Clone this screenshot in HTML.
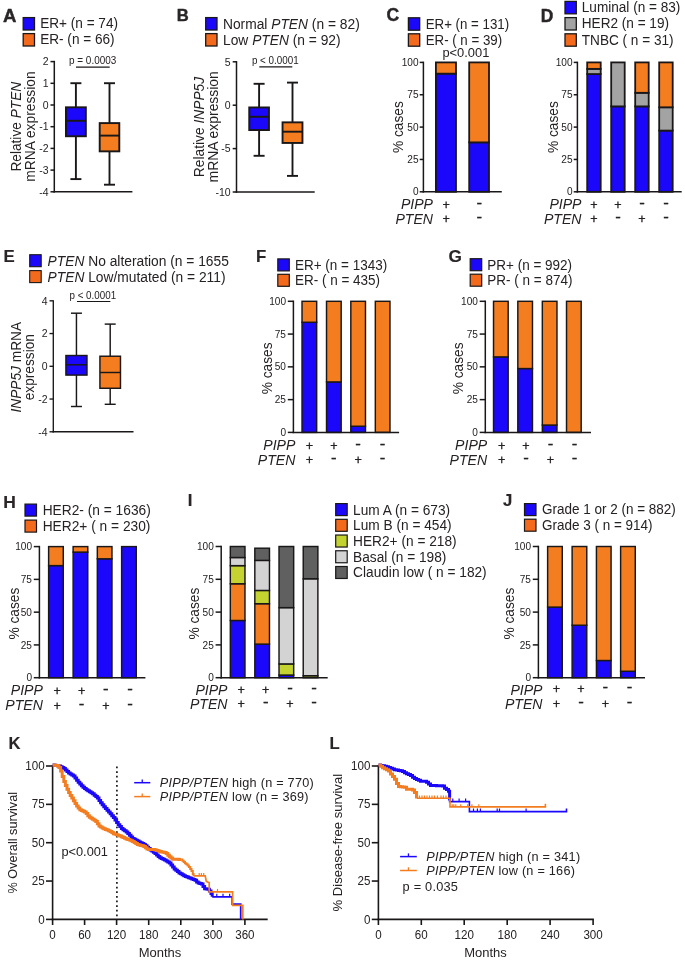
<!DOCTYPE html>
<html lang="en">
<head>
<meta charset="utf-8">
<title>PIPP / PTEN expression figure</title>
<style>
html,body{margin:0;padding:0;background:#fff;}
body{width:685px;height:963px;overflow:hidden;}
svg{display:block;font-family:"Liberation Sans",Arial,Helvetica,sans-serif;fill:#262223;}
svg line,svg rect,svg path{shape-rendering:geometricPrecision;}
</style>
</head>
<body>
<svg width="685" height="963" viewBox="0 0 685 963">
<rect x="0" y="0" width="685" height="963" fill="#ffffff" stroke="none"/>
<text font-size="17.4" font-weight="bold" transform="translate(2.9 21.7) scale(1.07 1.04)" fill="#2a2627" stroke="#2a2627" stroke-width="0.4" stroke-linejoin="round" xml:space="preserve">A</text>
<rect x="23.2" y="17.6" width="11.3" height="12.4" fill="#1b08fa" stroke="#1a1718" stroke-width="1.3"/>
<text font-size="13.6" transform="translate(40.2 28.35) scale(1 1.04)" xml:space="preserve">ER+ (n = 74)</text>
<rect x="23.2" y="33.6" width="11.3" height="12.4" fill="#f46a1c" stroke="#1a1718" stroke-width="1.3"/>
<text font-size="13.6" transform="translate(40.2 44.35) scale(1 1.04)" xml:space="preserve">ER- (n = 66)</text>
<line x1="54.3" y1="60.85" x2="54.3" y2="192.55" stroke="#1a1718" stroke-width="1.5"/>
<line x1="53.55" y1="191.8" x2="132.4" y2="191.8" stroke="#1a1718" stroke-width="1.5"/>
<line x1="50.5" y1="61.6" x2="54.3" y2="61.6" stroke="#1a1718" stroke-width="1.5"/>
<text font-size="10.5" text-anchor="end" transform="translate(48.5 65.38) scale(1 1.04)" xml:space="preserve">2</text>
<line x1="50.5" y1="83.3" x2="54.3" y2="83.3" stroke="#1a1718" stroke-width="1.5"/>
<text font-size="10.5" text-anchor="end" transform="translate(48.5 87.08) scale(1 1.04)" xml:space="preserve">1</text>
<line x1="50.5" y1="105" x2="54.3" y2="105" stroke="#1a1718" stroke-width="1.5"/>
<text font-size="10.5" text-anchor="end" transform="translate(48.5 108.78) scale(1 1.04)" xml:space="preserve">0</text>
<line x1="50.5" y1="126.7" x2="54.3" y2="126.7" stroke="#1a1718" stroke-width="1.5"/>
<text font-size="10.5" text-anchor="end" transform="translate(48.5 130.48) scale(1 1.04)" xml:space="preserve">-1</text>
<line x1="50.5" y1="148.4" x2="54.3" y2="148.4" stroke="#1a1718" stroke-width="1.5"/>
<text font-size="10.5" text-anchor="end" transform="translate(48.5 152.18) scale(1 1.04)" xml:space="preserve">-2</text>
<line x1="50.5" y1="170.1" x2="54.3" y2="170.1" stroke="#1a1718" stroke-width="1.5"/>
<text font-size="10.5" text-anchor="end" transform="translate(48.5 173.88) scale(1 1.04)" xml:space="preserve">-3</text>
<line x1="50.5" y1="191.8" x2="54.3" y2="191.8" stroke="#1a1718" stroke-width="1.5"/>
<text font-size="10.5" text-anchor="end" transform="translate(48.5 195.58) scale(1 1.04)" xml:space="preserve">-4</text>
<text font-size="10.3" transform="translate(69 63.8) scale(1 1.04)" textLength="47.3" lengthAdjust="spacingAndGlyphs" xml:space="preserve">p = 0.0003</text>
<line x1="76" y1="67.2" x2="109.7" y2="67.2" stroke="#1a1718" stroke-width="1.2"/>
<line x1="75.9" y1="83.2" x2="75.9" y2="107.3" stroke="#1a1718" stroke-width="1.9"/>
<line x1="75.9" y1="136.25" x2="75.9" y2="179.1" stroke="#1a1718" stroke-width="1.9"/>
<line x1="70.4" y1="83.2" x2="81.4" y2="83.2" stroke="#1a1718" stroke-width="1.9"/>
<line x1="70.4" y1="179.1" x2="81.4" y2="179.1" stroke="#1a1718" stroke-width="1.9"/>
<rect x="65.95" y="107.3" width="19.9" height="28.95" fill="#1b08fa" stroke="#1a1718" stroke-width="1.9"/>
<line x1="65.95" y1="120.8" x2="85.85" y2="120.8" stroke="#1a1718" stroke-width="1.9"/>
<line x1="109.5" y1="83.2" x2="109.5" y2="123.1" stroke="#1a1718" stroke-width="1.9"/>
<line x1="109.5" y1="151.35" x2="109.5" y2="184.7" stroke="#1a1718" stroke-width="1.9"/>
<line x1="104" y1="83.2" x2="115" y2="83.2" stroke="#1a1718" stroke-width="1.9"/>
<line x1="104" y1="184.7" x2="115" y2="184.7" stroke="#1a1718" stroke-width="1.9"/>
<rect x="99.7" y="123.1" width="19.6" height="28.25" fill="#f47d20" stroke="#1a1718" stroke-width="1.9"/>
<line x1="99.7" y1="135.6" x2="119.3" y2="135.6" stroke="#1a1718" stroke-width="1.9"/>
<text font-size="13.7" text-anchor="middle" transform="translate(20.6 126.7) rotate(-90) scale(1 1.04)" xml:space="preserve">Relative <tspan font-style="italic">PTEN</tspan></text>
<text font-size="13.8" text-anchor="middle" transform="translate(34.6 126.6) rotate(-90) scale(1 1.04)" xml:space="preserve">mRNA expression</text>
<text font-size="16.6" font-weight="bold" transform="translate(176.8 21) scale(1 1.04)" fill="#2a2627" stroke="#2a2627" stroke-width="0.4" stroke-linejoin="round" xml:space="preserve">B</text>
<rect x="205.7" y="17.6" width="11.3" height="12.4" fill="#1b08fa" stroke="#1a1718" stroke-width="1.3"/>
<text font-size="13.8" transform="translate(223 28.7) scale(1 1.04)" xml:space="preserve">Normal <tspan font-style="italic">PTEN</tspan> (n = 82)</text>
<rect x="205.7" y="33.6" width="11.3" height="12.4" fill="#f46a1c" stroke="#1a1718" stroke-width="1.3"/>
<text font-size="13.8" transform="translate(223 44.7) scale(1 1.04)" xml:space="preserve">Low <tspan font-style="italic">PTEN</tspan> (n = 92)</text>
<line x1="236.5" y1="61.05" x2="236.5" y2="192.75" stroke="#1a1718" stroke-width="1.5"/>
<line x1="235.75" y1="192" x2="314.7" y2="192" stroke="#1a1718" stroke-width="1.5"/>
<line x1="232.7" y1="61.8" x2="236.5" y2="61.8" stroke="#1a1718" stroke-width="1.5"/>
<text font-size="10.5" text-anchor="end" transform="translate(230.7 65.58) scale(1 1.04)" xml:space="preserve">5</text>
<line x1="232.7" y1="105.2" x2="236.5" y2="105.2" stroke="#1a1718" stroke-width="1.5"/>
<text font-size="10.5" text-anchor="end" transform="translate(230.7 108.98) scale(1 1.04)" xml:space="preserve">0</text>
<line x1="232.7" y1="148.6" x2="236.5" y2="148.6" stroke="#1a1718" stroke-width="1.5"/>
<text font-size="10.5" text-anchor="end" transform="translate(230.7 152.38) scale(1 1.04)" xml:space="preserve">-5</text>
<line x1="232.7" y1="192" x2="236.5" y2="192" stroke="#1a1718" stroke-width="1.5"/>
<text font-size="10.5" text-anchor="end" transform="translate(230.7 195.78) scale(1 1.04)" xml:space="preserve">-10</text>
<text font-size="10.3" transform="translate(251.9 63.8) scale(1 1.04)" textLength="46.8" lengthAdjust="spacingAndGlyphs" xml:space="preserve">p &lt; 0.0001</text>
<line x1="259.3" y1="66.9" x2="292.3" y2="66.9" stroke="#1a1718" stroke-width="1.2"/>
<line x1="259.1" y1="83.8" x2="259.1" y2="107.45" stroke="#1a1718" stroke-width="1.9"/>
<line x1="259.1" y1="130.05" x2="259.1" y2="155.8" stroke="#1a1718" stroke-width="1.9"/>
<line x1="253.6" y1="83.8" x2="264.6" y2="83.8" stroke="#1a1718" stroke-width="1.9"/>
<line x1="253.6" y1="155.8" x2="264.6" y2="155.8" stroke="#1a1718" stroke-width="1.9"/>
<rect x="249.25" y="107.45" width="19.7" height="22.6" fill="#1b08fa" stroke="#1a1718" stroke-width="1.9"/>
<line x1="249.25" y1="116.8" x2="268.95" y2="116.8" stroke="#1a1718" stroke-width="1.9"/>
<line x1="292.5" y1="82.6" x2="292.5" y2="122.35" stroke="#1a1718" stroke-width="1.9"/>
<line x1="292.5" y1="142.95" x2="292.5" y2="175.9" stroke="#1a1718" stroke-width="1.9"/>
<line x1="287" y1="82.6" x2="298" y2="82.6" stroke="#1a1718" stroke-width="1.9"/>
<line x1="287" y1="175.9" x2="298" y2="175.9" stroke="#1a1718" stroke-width="1.9"/>
<rect x="282.55" y="122.35" width="19.9" height="20.6" fill="#f47d20" stroke="#1a1718" stroke-width="1.9"/>
<line x1="282.55" y1="131.7" x2="302.45" y2="131.7" stroke="#1a1718" stroke-width="1.9"/>
<text font-size="13.8" text-anchor="middle" transform="translate(203.9 127) rotate(-90) scale(1 1.04)" xml:space="preserve">Relative <tspan font-style="italic">INPP5J</tspan></text>
<text font-size="13.9" text-anchor="middle" transform="translate(217.5 126.8) rotate(-90) scale(1 1.04)" xml:space="preserve">mRNA expression</text>
<text font-size="17.6" font-weight="bold" transform="translate(386.4 21.2) scale(1 1.04)" fill="#2a2627" stroke="#2a2627" stroke-width="0.4" stroke-linejoin="round" xml:space="preserve">C</text>
<rect x="408.4" y="17.8" width="11.3" height="12.4" fill="#1b08fa" stroke="#1a1718" stroke-width="1.3"/>
<text font-size="13.3" transform="translate(425.7 28.5) scale(1 1.04)" xml:space="preserve">ER+ (n = 131)</text>
<rect x="408.4" y="33.8" width="11.3" height="12.4" fill="#f46a1c" stroke="#1a1718" stroke-width="1.3"/>
<text font-size="13.3" transform="translate(425.7 44.5) scale(1 1.04)" xml:space="preserve">ER- ( n = 39)</text>
<text font-size="12.9" transform="translate(442.4 57.3) scale(1 1.04)" xml:space="preserve">p&lt;0.001</text>
<rect x="435.9" y="73.6578" width="20.1" height="118.142" fill="#1b08fa" stroke="#1a1718" stroke-width="1.8"/>
<rect x="435.9" y="62.4" width="20.1" height="11.2578" fill="#f47d20" stroke="#1a1718" stroke-width="1.8"/>
<rect x="469.2" y="142.369" width="19.8" height="49.4308" fill="#1b08fa" stroke="#1a1718" stroke-width="1.8"/>
<rect x="469.2" y="62.4" width="19.8" height="79.9692" fill="#f47d20" stroke="#1a1718" stroke-width="1.8"/>
<line x1="423.4" y1="61.65" x2="423.4" y2="192.55" stroke="#1a1718" stroke-width="1.5"/>
<line x1="422.65" y1="191.8" x2="501.8" y2="191.8" stroke="#1a1718" stroke-width="1.5"/>
<line x1="419.7" y1="62.4" x2="423.4" y2="62.4" stroke="#1a1718" stroke-width="1.5"/>
<text font-size="10.1" text-anchor="end" transform="translate(418.6 66.036) scale(1 1.04)" xml:space="preserve">100</text>
<line x1="419.7" y1="94.75" x2="423.4" y2="94.75" stroke="#1a1718" stroke-width="1.5"/>
<text font-size="10.1" text-anchor="end" transform="translate(418.6 98.386) scale(1 1.04)" xml:space="preserve">75</text>
<line x1="419.7" y1="127.1" x2="423.4" y2="127.1" stroke="#1a1718" stroke-width="1.5"/>
<text font-size="10.1" text-anchor="end" transform="translate(418.6 130.736) scale(1 1.04)" xml:space="preserve">50</text>
<line x1="419.7" y1="159.45" x2="423.4" y2="159.45" stroke="#1a1718" stroke-width="1.5"/>
<text font-size="10.1" text-anchor="end" transform="translate(418.6 163.086) scale(1 1.04)" xml:space="preserve">25</text>
<line x1="419.7" y1="191.8" x2="423.4" y2="191.8" stroke="#1a1718" stroke-width="1.5"/>
<text font-size="10.1" text-anchor="end" transform="translate(418.6 195.436) scale(1 1.04)" xml:space="preserve">0</text>
<text font-size="13.7" text-anchor="middle" transform="translate(403 127.1) rotate(-90) scale(1 1.04)" xml:space="preserve">% cases</text>
<text font-size="14.1" text-anchor="end" transform="translate(433 208.8) scale(1 1.04)" xml:space="preserve"><tspan font-style="italic">PIPP</tspan></text>
<text font-size="14.1" text-anchor="end" transform="translate(433 223.6) scale(1 1.04)" xml:space="preserve"><tspan font-style="italic">PTEN</tspan></text>
<text font-size="12.6" text-anchor="middle" transform="translate(446.25 208.50) scale(1 1.04)" stroke="#262223" stroke-width="0.3">+</text>
<text font-size="12.6" text-anchor="middle" transform="translate(446.25 223.10) scale(1 1.04)" stroke="#262223" stroke-width="0.3">+</text>
<text font-size="14" text-anchor="middle" transform="translate(479.4 207.63) scale(1.2 1.04)" stroke="#262223" stroke-width="0.3">-</text>
<text font-size="14" text-anchor="middle" transform="translate(479.4 222.23) scale(1.2 1.04)" stroke="#262223" stroke-width="0.3">-</text>
<text font-size="17.4" font-weight="bold" transform="translate(540.8 21.7) scale(1 1.04)" fill="#2a2627" stroke="#2a2627" stroke-width="0.4" stroke-linejoin="round" xml:space="preserve">D</text>
<rect x="565" y="1.4" width="11.3" height="12.4" fill="#1b08fa" stroke="#1a1718" stroke-width="1.3"/>
<text font-size="13.6" transform="translate(581.8 12.1) scale(1 1.04)" xml:space="preserve">Luminal (n = 83)</text>
<rect x="565" y="17.6" width="11.3" height="12.4" fill="#a3a3a3" stroke="#1a1718" stroke-width="1.3"/>
<text font-size="13.6" transform="translate(581.8 28.3) scale(1 1.04)" xml:space="preserve">HER2 (n = 19)</text>
<rect x="565" y="33.8" width="11.3" height="12.4" fill="#f46a1c" stroke="#1a1718" stroke-width="1.3"/>
<text font-size="13.6" transform="translate(581.8 44.5) scale(1 1.04)" xml:space="preserve">TNBC ( n = 31)</text>
<rect x="587.2" y="74.046" width="13.5" height="117.754" fill="#1b08fa" stroke="#1a1718" stroke-width="1.8"/>
<rect x="587.2" y="68.87" width="13.5" height="5.176" fill="#a3a3a3" stroke="#1a1718" stroke-width="1.8"/>
<rect x="587.2" y="62.4" width="13.5" height="6.47" fill="#f47d20" stroke="#1a1718" stroke-width="1.8"/>
<rect x="611.2" y="106.396" width="13.5" height="85.404" fill="#1b08fa" stroke="#1a1718" stroke-width="1.8"/>
<rect x="611.2" y="62.4" width="13.5" height="43.996" fill="#a3a3a3" stroke="#1a1718" stroke-width="1.8"/>
<rect x="635.2" y="106.396" width="13.5" height="85.404" fill="#1b08fa" stroke="#1a1718" stroke-width="1.8"/>
<rect x="635.2" y="92.809" width="13.5" height="13.587" fill="#a3a3a3" stroke="#1a1718" stroke-width="1.8"/>
<rect x="635.2" y="62.4" width="13.5" height="30.409" fill="#f47d20" stroke="#1a1718" stroke-width="1.8"/>
<rect x="659.2" y="130.594" width="13.5" height="61.2062" fill="#1b08fa" stroke="#1a1718" stroke-width="1.8"/>
<rect x="659.2" y="107.302" width="13.5" height="23.292" fill="#a3a3a3" stroke="#1a1718" stroke-width="1.8"/>
<rect x="659.2" y="62.4" width="13.5" height="44.9018" fill="#f47d20" stroke="#1a1718" stroke-width="1.8"/>
<line x1="577.4" y1="61.65" x2="577.4" y2="192.55" stroke="#1a1718" stroke-width="1.5"/>
<line x1="576.65" y1="191.8" x2="681.7" y2="191.8" stroke="#1a1718" stroke-width="1.5"/>
<line x1="573.7" y1="62.4" x2="577.4" y2="62.4" stroke="#1a1718" stroke-width="1.5"/>
<text font-size="10.1" text-anchor="end" transform="translate(572.6 66.036) scale(1 1.04)" xml:space="preserve">100</text>
<line x1="573.7" y1="94.75" x2="577.4" y2="94.75" stroke="#1a1718" stroke-width="1.5"/>
<text font-size="10.1" text-anchor="end" transform="translate(572.6 98.386) scale(1 1.04)" xml:space="preserve">75</text>
<line x1="573.7" y1="127.1" x2="577.4" y2="127.1" stroke="#1a1718" stroke-width="1.5"/>
<text font-size="10.1" text-anchor="end" transform="translate(572.6 130.736) scale(1 1.04)" xml:space="preserve">50</text>
<line x1="573.7" y1="159.45" x2="577.4" y2="159.45" stroke="#1a1718" stroke-width="1.5"/>
<text font-size="10.1" text-anchor="end" transform="translate(572.6 163.086) scale(1 1.04)" xml:space="preserve">25</text>
<line x1="573.7" y1="191.8" x2="577.4" y2="191.8" stroke="#1a1718" stroke-width="1.5"/>
<text font-size="10.1" text-anchor="end" transform="translate(572.6 195.436) scale(1 1.04)" xml:space="preserve">0</text>
<text font-size="13.7" text-anchor="middle" transform="translate(558 127.1) rotate(-90) scale(1 1.04)" xml:space="preserve">% cases</text>
<text font-size="14.1" text-anchor="end" transform="translate(581.5 208.8) scale(1 1.04)" xml:space="preserve"><tspan font-style="italic">PIPP</tspan></text>
<text font-size="14.1" text-anchor="end" transform="translate(581.5 223.6) scale(1 1.04)" xml:space="preserve"><tspan font-style="italic">PTEN</tspan></text>
<text font-size="12.6" text-anchor="middle" transform="translate(593.95 208.50) scale(1 1.04)" stroke="#262223" stroke-width="0.3">+</text>
<text font-size="12.6" text-anchor="middle" transform="translate(593.95 223.10) scale(1 1.04)" stroke="#262223" stroke-width="0.3">+</text>
<text font-size="12.6" text-anchor="middle" transform="translate(617.95 208.50) scale(1 1.04)" stroke="#262223" stroke-width="0.3">+</text>
<text font-size="14" text-anchor="middle" transform="translate(617.95 222.23) scale(1.2 1.04)" stroke="#262223" stroke-width="0.3">-</text>
<text font-size="14" text-anchor="middle" transform="translate(641.95 207.63) scale(1.2 1.04)" stroke="#262223" stroke-width="0.3">-</text>
<text font-size="12.6" text-anchor="middle" transform="translate(641.95 223.10) scale(1 1.04)" stroke="#262223" stroke-width="0.3">+</text>
<text font-size="14" text-anchor="middle" transform="translate(665.95 207.63) scale(1.2 1.04)" stroke="#262223" stroke-width="0.3">-</text>
<text font-size="14" text-anchor="middle" transform="translate(665.95 222.23) scale(1.2 1.04)" stroke="#262223" stroke-width="0.3">-</text>
<text font-size="15" font-weight="bold" transform="translate(3.6 261.8) scale(1.12 1.04)" fill="#2a2627" stroke="#2a2627" stroke-width="0.15" stroke-linejoin="round" xml:space="preserve">E</text>
<rect x="29.7" y="254.7" width="11.5" height="12" fill="#1b08fa" stroke="#1a1718" stroke-width="1.1"/>
<text font-size="13.8" transform="translate(47.6 265.9) scale(1 1.04)" xml:space="preserve"><tspan font-style="italic">PTEN</tspan> No alteration (n = 1655</text>
<rect x="29.7" y="270.6" width="11.5" height="12" fill="#f46a1c" stroke="#1a1718" stroke-width="1.1"/>
<text font-size="13.8" transform="translate(47.6 281.8) scale(1 1.04)" xml:space="preserve"><tspan font-style="italic">PTEN</tspan> Low/mutated (n = 211)</text>
<line x1="53.3" y1="300.145" x2="53.3" y2="432.455" stroke="#1a1718" stroke-width="1.35"/>
<line x1="52.625" y1="431.78" x2="133.5" y2="431.78" stroke="#1a1718" stroke-width="1.35"/>
<line x1="49.5" y1="300.82" x2="53.3" y2="300.82" stroke="#1a1718" stroke-width="1.35"/>
<text font-size="10.5" text-anchor="end" transform="translate(47.5 304.6) scale(1 1.04)" xml:space="preserve">4</text>
<line x1="49.5" y1="333.56" x2="53.3" y2="333.56" stroke="#1a1718" stroke-width="1.35"/>
<text font-size="10.5" text-anchor="end" transform="translate(47.5 337.34) scale(1 1.04)" xml:space="preserve">2</text>
<line x1="49.5" y1="366.3" x2="53.3" y2="366.3" stroke="#1a1718" stroke-width="1.35"/>
<text font-size="10.5" text-anchor="end" transform="translate(47.5 370.08) scale(1 1.04)" xml:space="preserve">0</text>
<line x1="49.5" y1="399.04" x2="53.3" y2="399.04" stroke="#1a1718" stroke-width="1.35"/>
<text font-size="10.5" text-anchor="end" transform="translate(47.5 402.82) scale(1 1.04)" xml:space="preserve">-2</text>
<line x1="49.5" y1="431.78" x2="53.3" y2="431.78" stroke="#1a1718" stroke-width="1.35"/>
<text font-size="10.5" text-anchor="end" transform="translate(47.5 435.56) scale(1 1.04)" xml:space="preserve">-4</text>
<text font-size="10.3" transform="translate(69.5 298.8) scale(1 1.04)" textLength="46.6" lengthAdjust="spacingAndGlyphs" xml:space="preserve">p &lt; 0.0001</text>
<line x1="77" y1="301.5" x2="110.4" y2="301.5" stroke="#1a1718" stroke-width="1.1"/>
<line x1="76.45" y1="313.2" x2="76.45" y2="355.525" stroke="#1a1718" stroke-width="1.45"/>
<line x1="76.45" y1="375.075" x2="76.45" y2="406.5" stroke="#1a1718" stroke-width="1.45"/>
<line x1="70.95" y1="313.2" x2="81.95" y2="313.2" stroke="#1a1718" stroke-width="1.45"/>
<line x1="70.95" y1="406.5" x2="81.95" y2="406.5" stroke="#1a1718" stroke-width="1.45"/>
<rect x="65.925" y="355.525" width="21.05" height="19.55" fill="#1b08fa" stroke="#1a1718" stroke-width="1.45"/>
<line x1="65.925" y1="364.8" x2="86.975" y2="364.8" stroke="#1a1718" stroke-width="1.45"/>
<line x1="110.2" y1="324.1" x2="110.2" y2="356.225" stroke="#1a1718" stroke-width="1.45"/>
<line x1="110.2" y1="388.275" x2="110.2" y2="404.3" stroke="#1a1718" stroke-width="1.45"/>
<line x1="104.7" y1="324.1" x2="115.7" y2="324.1" stroke="#1a1718" stroke-width="1.45"/>
<line x1="104.7" y1="404.3" x2="115.7" y2="404.3" stroke="#1a1718" stroke-width="1.45"/>
<rect x="99.925" y="356.225" width="20.55" height="32.05" fill="#f47d20" stroke="#1a1718" stroke-width="1.45"/>
<line x1="99.925" y1="372.5" x2="120.475" y2="372.5" stroke="#1a1718" stroke-width="1.45"/>
<text font-size="13.7" text-anchor="middle" transform="translate(20.6 367.2) rotate(-90) scale(1 1.04)" xml:space="preserve"><tspan font-style="italic">INPP5J</tspan> mRNA</text>
<text font-size="13.7" text-anchor="middle" transform="translate(34.2 367.2) rotate(-90) scale(1 1.04)" xml:space="preserve">expression</text>
<text font-size="15" font-weight="bold" transform="translate(255.9 261.8) scale(1.12 1.04)" fill="#2a2627" stroke="#2a2627" stroke-width="0.15" stroke-linejoin="round" xml:space="preserve">F</text>
<rect x="277.8" y="258.9" width="11.5" height="12" fill="#1b08fa" stroke="#1a1718" stroke-width="1.2"/>
<text font-size="13.5" transform="translate(295 269.8) scale(1 1.04)" xml:space="preserve">ER+ (n = 1343)</text>
<rect x="277.8" y="274.3" width="11.5" height="12" fill="#f46a1c" stroke="#1a1718" stroke-width="1.2"/>
<text font-size="13.5" transform="translate(295 285.2) scale(1 1.04)" xml:space="preserve">ER- ( n = 435)</text>
<rect x="302.025" y="322.276" width="14.65" height="110.124" fill="#1b08fa" stroke="#1a1718" stroke-width="1.45"/>
<rect x="302.025" y="301.3" width="14.65" height="20.976" fill="#f47d20" stroke="#1a1718" stroke-width="1.45"/>
<rect x="326.525" y="381.926" width="14.65" height="50.4735" fill="#1b08fa" stroke="#1a1718" stroke-width="1.45"/>
<rect x="326.525" y="301.3" width="14.65" height="80.6265" fill="#f47d20" stroke="#1a1718" stroke-width="1.45"/>
<rect x="350.825" y="426.238" width="14.65" height="6.1617" fill="#1b08fa" stroke="#1a1718" stroke-width="1.45"/>
<rect x="350.825" y="301.3" width="14.65" height="124.938" fill="#f47d20" stroke="#1a1718" stroke-width="1.45"/>
<rect x="375.325" y="301.3" width="14.65" height="131.1" fill="#f47d20" stroke="#1a1718" stroke-width="1.45"/>
<line x1="293.4" y1="300.55" x2="293.4" y2="433.15" stroke="#1a1718" stroke-width="1.5"/>
<line x1="292.65" y1="432.4" x2="399.1" y2="432.4" stroke="#1a1718" stroke-width="1.5"/>
<line x1="287.8" y1="301.3" x2="293.4" y2="301.3" stroke="#1a1718" stroke-width="1.5"/>
<text font-size="10.1" text-anchor="end" transform="translate(286 304.936) scale(1 1.04)" xml:space="preserve">100</text>
<line x1="287.8" y1="334.075" x2="293.4" y2="334.075" stroke="#1a1718" stroke-width="1.5"/>
<text font-size="10.1" text-anchor="end" transform="translate(286 337.711) scale(1 1.04)" xml:space="preserve">75</text>
<line x1="287.8" y1="366.85" x2="293.4" y2="366.85" stroke="#1a1718" stroke-width="1.5"/>
<text font-size="10.1" text-anchor="end" transform="translate(286 370.486) scale(1 1.04)" xml:space="preserve">50</text>
<line x1="287.8" y1="399.625" x2="293.4" y2="399.625" stroke="#1a1718" stroke-width="1.5"/>
<text font-size="10.1" text-anchor="end" transform="translate(286 403.261) scale(1 1.04)" xml:space="preserve">25</text>
<line x1="287.8" y1="432.4" x2="293.4" y2="432.4" stroke="#1a1718" stroke-width="1.5"/>
<text font-size="10.1" text-anchor="end" transform="translate(286 436.036) scale(1 1.04)" xml:space="preserve">0</text>
<text font-size="13.7" text-anchor="middle" transform="translate(271.5 368.4) rotate(-90) scale(1 1.04)" xml:space="preserve">% cases</text>
<text font-size="14.1" text-anchor="end" transform="translate(295.4 450.2) scale(1 1.04)" xml:space="preserve"><tspan font-style="italic">PIPP</tspan></text>
<text font-size="14.1" text-anchor="end" transform="translate(295.4 464.6) scale(1 1.04)" xml:space="preserve"><tspan font-style="italic">PTEN</tspan></text>
<text font-size="12.6" text-anchor="middle" transform="translate(309.35 449.50) scale(1 1.04)" stroke="#262223" stroke-width="0.3">+</text>
<text font-size="12.6" text-anchor="middle" transform="translate(309.35 463.70) scale(1 1.04)" stroke="#262223" stroke-width="0.3">+</text>
<text font-size="12.6" text-anchor="middle" transform="translate(333.85 449.50) scale(1 1.04)" stroke="#262223" stroke-width="0.3">+</text>
<text font-size="14" text-anchor="middle" transform="translate(333.85 462.83) scale(1.2 1.04)" stroke="#262223" stroke-width="0.3">-</text>
<text font-size="14" text-anchor="middle" transform="translate(358.15 448.63) scale(1.2 1.04)" stroke="#262223" stroke-width="0.3">-</text>
<text font-size="12.6" text-anchor="middle" transform="translate(358.15 463.70) scale(1 1.04)" stroke="#262223" stroke-width="0.3">+</text>
<text font-size="14" text-anchor="middle" transform="translate(382.65 448.63) scale(1.2 1.04)" stroke="#262223" stroke-width="0.3">-</text>
<text font-size="14" text-anchor="middle" transform="translate(382.65 462.83) scale(1.2 1.04)" stroke="#262223" stroke-width="0.3">-</text>
<text font-size="15.4" font-weight="bold" transform="translate(448.4 261.6) scale(1.12 1.04)" fill="#2a2627" stroke="#2a2627" stroke-width="0.15" stroke-linejoin="round" xml:space="preserve">G</text>
<rect x="470.2" y="258.7" width="11.5" height="12" fill="#1b08fa" stroke="#1a1718" stroke-width="1.2"/>
<text font-size="13.5" transform="translate(487.3 269.6) scale(1 1.04)" xml:space="preserve">PR+ (n = 992)</text>
<rect x="470.2" y="274.2" width="11.5" height="12" fill="#f46a1c" stroke="#1a1718" stroke-width="1.2"/>
<text font-size="13.5" transform="translate(487.3 285.1) scale(1 1.04)" xml:space="preserve">PR- ( n = 874)</text>
<rect x="493.525" y="356.886" width="14.65" height="75.5136" fill="#1b08fa" stroke="#1a1718" stroke-width="1.45"/>
<rect x="493.525" y="301.3" width="14.65" height="55.5864" fill="#f47d20" stroke="#1a1718" stroke-width="1.45"/>
<rect x="517.825" y="368.554" width="14.65" height="63.8457" fill="#1b08fa" stroke="#1a1718" stroke-width="1.45"/>
<rect x="517.825" y="301.3" width="14.65" height="67.2543" fill="#f47d20" stroke="#1a1718" stroke-width="1.45"/>
<rect x="542.325" y="425.058" width="14.65" height="7.3416" fill="#1b08fa" stroke="#1a1718" stroke-width="1.45"/>
<rect x="542.325" y="301.3" width="14.65" height="123.758" fill="#f47d20" stroke="#1a1718" stroke-width="1.45"/>
<rect x="566.525" y="301.3" width="14.65" height="131.1" fill="#f47d20" stroke="#1a1718" stroke-width="1.45"/>
<line x1="485.3" y1="300.55" x2="485.3" y2="433.15" stroke="#1a1718" stroke-width="1.5"/>
<line x1="484.55" y1="432.4" x2="591" y2="432.4" stroke="#1a1718" stroke-width="1.5"/>
<line x1="479.7" y1="301.3" x2="485.3" y2="301.3" stroke="#1a1718" stroke-width="1.5"/>
<text font-size="10.1" text-anchor="end" transform="translate(477.9 304.936) scale(1 1.04)" xml:space="preserve">100</text>
<line x1="479.7" y1="334.075" x2="485.3" y2="334.075" stroke="#1a1718" stroke-width="1.5"/>
<text font-size="10.1" text-anchor="end" transform="translate(477.9 337.711) scale(1 1.04)" xml:space="preserve">75</text>
<line x1="479.7" y1="366.85" x2="485.3" y2="366.85" stroke="#1a1718" stroke-width="1.5"/>
<text font-size="10.1" text-anchor="end" transform="translate(477.9 370.486) scale(1 1.04)" xml:space="preserve">50</text>
<line x1="479.7" y1="399.625" x2="485.3" y2="399.625" stroke="#1a1718" stroke-width="1.5"/>
<text font-size="10.1" text-anchor="end" transform="translate(477.9 403.261) scale(1 1.04)" xml:space="preserve">25</text>
<line x1="479.7" y1="432.4" x2="485.3" y2="432.4" stroke="#1a1718" stroke-width="1.5"/>
<text font-size="10.1" text-anchor="end" transform="translate(477.9 436.036) scale(1 1.04)" xml:space="preserve">0</text>
<text font-size="13.7" text-anchor="middle" transform="translate(462.7 368.4) rotate(-90) scale(1 1.04)" xml:space="preserve">% cases</text>
<text font-size="14.1" text-anchor="end" transform="translate(487.2 450.2) scale(1 1.04)" xml:space="preserve"><tspan font-style="italic">PIPP</tspan></text>
<text font-size="14.1" text-anchor="end" transform="translate(487.2 464.6) scale(1 1.04)" xml:space="preserve"><tspan font-style="italic">PTEN</tspan></text>
<text font-size="12.6" text-anchor="middle" transform="translate(501.65 449.50) scale(1 1.04)" stroke="#262223" stroke-width="0.3">+</text>
<text font-size="12.6" text-anchor="middle" transform="translate(501.65 463.70) scale(1 1.04)" stroke="#262223" stroke-width="0.3">+</text>
<text font-size="12.6" text-anchor="middle" transform="translate(525.95 449.50) scale(1 1.04)" stroke="#262223" stroke-width="0.3">+</text>
<text font-size="14" text-anchor="middle" transform="translate(525.95 462.83) scale(1.2 1.04)" stroke="#262223" stroke-width="0.3">-</text>
<text font-size="14" text-anchor="middle" transform="translate(550.45 448.63) scale(1.2 1.04)" stroke="#262223" stroke-width="0.3">-</text>
<text font-size="12.6" text-anchor="middle" transform="translate(550.45 463.70) scale(1 1.04)" stroke="#262223" stroke-width="0.3">+</text>
<text font-size="14" text-anchor="middle" transform="translate(574.65 448.63) scale(1.2 1.04)" stroke="#262223" stroke-width="0.3">-</text>
<text font-size="14" text-anchor="middle" transform="translate(574.65 462.83) scale(1.2 1.04)" stroke="#262223" stroke-width="0.3">-</text>
<text font-size="15.6" font-weight="bold" transform="translate(3.3 507.9) scale(1.12 1.04)" fill="#2a2627" stroke="#2a2627" stroke-width="0.15" stroke-linejoin="round" xml:space="preserve">H</text>
<rect x="25" y="504.1" width="11.5" height="12" fill="#1b08fa" stroke="#1a1718" stroke-width="1.2"/>
<text font-size="13.75" transform="translate(42.7 515.4) scale(1 1.04)" xml:space="preserve">HER2- (n = 1636)</text>
<rect x="25" y="520.1" width="11.5" height="12" fill="#f46a1c" stroke="#1a1718" stroke-width="1.2"/>
<text font-size="13.75" transform="translate(42.7 531.4) scale(1 1.04)" xml:space="preserve">HER2+ ( n = 230)</text>
<rect x="48.625" y="565.61" width="14.65" height="112.091" fill="#1b08fa" stroke="#1a1718" stroke-width="1.45"/>
<rect x="48.625" y="546.6" width="14.65" height="19.0095" fill="#f47d20" stroke="#1a1718" stroke-width="1.45"/>
<rect x="73.125" y="552.106" width="14.65" height="125.594" fill="#1b08fa" stroke="#1a1718" stroke-width="1.45"/>
<rect x="73.125" y="546.6" width="14.65" height="5.5062" fill="#f47d20" stroke="#1a1718" stroke-width="1.45"/>
<rect x="97.325" y="558.792" width="14.65" height="118.908" fill="#1b08fa" stroke="#1a1718" stroke-width="1.45"/>
<rect x="97.325" y="546.6" width="14.65" height="12.1923" fill="#f47d20" stroke="#1a1718" stroke-width="1.45"/>
<rect x="121.625" y="546.6" width="14.65" height="131.1" fill="#1b08fa" stroke="#1a1718" stroke-width="1.45"/>
<line x1="39.4" y1="545.85" x2="39.4" y2="678.45" stroke="#1a1718" stroke-width="1.5"/>
<line x1="38.65" y1="677.7" x2="145.4" y2="677.7" stroke="#1a1718" stroke-width="1.5"/>
<line x1="33.8" y1="546.6" x2="39.4" y2="546.6" stroke="#1a1718" stroke-width="1.5"/>
<text font-size="10.1" text-anchor="end" transform="translate(32 550.236) scale(1 1.04)" xml:space="preserve">100</text>
<line x1="33.8" y1="579.375" x2="39.4" y2="579.375" stroke="#1a1718" stroke-width="1.5"/>
<text font-size="10.1" text-anchor="end" transform="translate(32 583.011) scale(1 1.04)" xml:space="preserve">75</text>
<line x1="33.8" y1="612.15" x2="39.4" y2="612.15" stroke="#1a1718" stroke-width="1.5"/>
<text font-size="10.1" text-anchor="end" transform="translate(32 615.786) scale(1 1.04)" xml:space="preserve">50</text>
<line x1="33.8" y1="644.925" x2="39.4" y2="644.925" stroke="#1a1718" stroke-width="1.5"/>
<text font-size="10.1" text-anchor="end" transform="translate(32 648.561) scale(1 1.04)" xml:space="preserve">25</text>
<line x1="33.8" y1="677.7" x2="39.4" y2="677.7" stroke="#1a1718" stroke-width="1.5"/>
<text font-size="10.1" text-anchor="end" transform="translate(32 681.336) scale(1 1.04)" xml:space="preserve">0</text>
<text font-size="13.7" text-anchor="middle" transform="translate(18.6 613.6) rotate(-90) scale(1 1.04)" xml:space="preserve">% cases</text>
<text font-size="14.1" text-anchor="end" transform="translate(42.9 695) scale(1 1.04)" xml:space="preserve"><tspan font-style="italic">PIPP</tspan></text>
<text font-size="14.1" text-anchor="end" transform="translate(42.9 709.6) scale(1 1.04)" xml:space="preserve"><tspan font-style="italic">PTEN</tspan></text>
<text font-size="12.6" text-anchor="middle" transform="translate(57.15 695.10) scale(1 1.04)" stroke="#262223" stroke-width="0.3">+</text>
<text font-size="12.6" text-anchor="middle" transform="translate(57.15 710.00) scale(1 1.04)" stroke="#262223" stroke-width="0.3">+</text>
<text font-size="12.6" text-anchor="middle" transform="translate(81.65 695.10) scale(1 1.04)" stroke="#262223" stroke-width="0.3">+</text>
<text font-size="14" text-anchor="middle" transform="translate(81.65 709.13) scale(1.2 1.04)" stroke="#262223" stroke-width="0.3">-</text>
<text font-size="14" text-anchor="middle" transform="translate(105.85 694.23) scale(1.2 1.04)" stroke="#262223" stroke-width="0.3">-</text>
<text font-size="12.6" text-anchor="middle" transform="translate(105.85 710.00) scale(1 1.04)" stroke="#262223" stroke-width="0.3">+</text>
<text font-size="14" text-anchor="middle" transform="translate(130.15 694.23) scale(1.2 1.04)" stroke="#262223" stroke-width="0.3">-</text>
<text font-size="14" text-anchor="middle" transform="translate(130.15 709.13) scale(1.2 1.04)" stroke="#262223" stroke-width="0.3">-</text>
<text font-size="15" font-weight="bold" transform="translate(187.7 506.2) scale(1.12 1.04)" fill="#2a2627" stroke="#2a2627" stroke-width="0.15" stroke-linejoin="round" xml:space="preserve">I</text>
<rect x="335.7" y="503.6" width="11.5" height="12" fill="#1b08fa" stroke="#1a1718" stroke-width="1.2"/>
<text font-size="13.7" transform="translate(353.1 514.5) scale(1 1.04)" xml:space="preserve">Lum A (n = 673)</text>
<rect x="335.7" y="519.32" width="11.5" height="12" fill="#f46a1c" stroke="#1a1718" stroke-width="1.2"/>
<text font-size="13.7" transform="translate(353.1 530.22) scale(1 1.04)" xml:space="preserve">Lum B (n = 454)</text>
<rect x="335.7" y="535.04" width="11.5" height="12" fill="#c4d330" stroke="#1a1718" stroke-width="1.2"/>
<text font-size="13.7" transform="translate(353.1 545.94) scale(1 1.04)" xml:space="preserve">HER2+ (n = 218)</text>
<rect x="335.7" y="550.76" width="11.5" height="12" fill="#d3d3d3" stroke="#1a1718" stroke-width="1.2"/>
<text font-size="13.7" transform="translate(353.1 561.66) scale(1 1.04)" xml:space="preserve">Basal (n = 198)</text>
<rect x="335.7" y="566.48" width="11.5" height="12" fill="#606060" stroke="#1a1718" stroke-width="1.2"/>
<text font-size="13.7" transform="translate(353.1 577.38) scale(1 1.04)" xml:space="preserve">Claudin low ( n = 182)</text>
<rect x="230.325" y="620.497" width="14.65" height="57.2032" fill="#1b08fa" stroke="#1a1718" stroke-width="1.45"/>
<rect x="230.325" y="583.761" width="14.65" height="36.736" fill="#f47d20" stroke="#1a1718" stroke-width="1.45"/>
<rect x="230.325" y="565.655" width="14.65" height="18.1056" fill="#c4d330" stroke="#1a1718" stroke-width="1.45"/>
<rect x="230.325" y="557.521" width="14.65" height="8.1344" fill="#d3d3d3" stroke="#1a1718" stroke-width="1.45"/>
<rect x="230.325" y="546.5" width="14.65" height="11.0208" fill="#606060" stroke="#1a1718" stroke-width="1.45"/>
<rect x="254.825" y="644.113" width="14.65" height="33.5872" fill="#1b08fa" stroke="#1a1718" stroke-width="1.45"/>
<rect x="254.825" y="603.703" width="14.65" height="40.4096" fill="#f47d20" stroke="#1a1718" stroke-width="1.45"/>
<rect x="254.825" y="590.452" width="14.65" height="13.2512" fill="#c4d330" stroke="#1a1718" stroke-width="1.45"/>
<rect x="254.825" y="560.407" width="14.65" height="30.0448" fill="#d3d3d3" stroke="#1a1718" stroke-width="1.45"/>
<rect x="254.825" y="548.206" width="14.65" height="12.2016" fill="#606060" stroke="#1a1718" stroke-width="1.45"/>
<rect x="279.025" y="675.076" width="14.65" height="2.624" fill="#1b08fa" stroke="#1a1718" stroke-width="1.45"/>
<rect x="279.025" y="663.924" width="14.65" height="11.152" fill="#c4d330" stroke="#1a1718" stroke-width="1.45"/>
<rect x="279.025" y="607.639" width="14.65" height="56.2848" fill="#d3d3d3" stroke="#1a1718" stroke-width="1.45"/>
<rect x="279.025" y="546.5" width="14.65" height="61.1392" fill="#606060" stroke="#1a1718" stroke-width="1.45"/>
<rect x="303.225" y="675.732" width="14.65" height="1.968" fill="#c4d330" stroke="#1a1718" stroke-width="1.45"/>
<rect x="303.225" y="578.775" width="14.65" height="96.9568" fill="#d3d3d3" stroke="#1a1718" stroke-width="1.45"/>
<rect x="303.225" y="546.5" width="14.65" height="32.2752" fill="#606060" stroke="#1a1718" stroke-width="1.45"/>
<line x1="221.2" y1="545.75" x2="221.2" y2="678.45" stroke="#1a1718" stroke-width="1.5"/>
<line x1="220.45" y1="677.7" x2="327.7" y2="677.7" stroke="#1a1718" stroke-width="1.5"/>
<line x1="215.6" y1="546.5" x2="221.2" y2="546.5" stroke="#1a1718" stroke-width="1.5"/>
<text font-size="10.1" text-anchor="end" transform="translate(213.8 550.136) scale(1 1.04)" xml:space="preserve">100</text>
<line x1="215.6" y1="579.3" x2="221.2" y2="579.3" stroke="#1a1718" stroke-width="1.5"/>
<text font-size="10.1" text-anchor="end" transform="translate(213.8 582.936) scale(1 1.04)" xml:space="preserve">75</text>
<line x1="215.6" y1="612.1" x2="221.2" y2="612.1" stroke="#1a1718" stroke-width="1.5"/>
<text font-size="10.1" text-anchor="end" transform="translate(213.8 615.736) scale(1 1.04)" xml:space="preserve">50</text>
<line x1="215.6" y1="644.9" x2="221.2" y2="644.9" stroke="#1a1718" stroke-width="1.5"/>
<text font-size="10.1" text-anchor="end" transform="translate(213.8 648.536) scale(1 1.04)" xml:space="preserve">25</text>
<line x1="215.6" y1="677.7" x2="221.2" y2="677.7" stroke="#1a1718" stroke-width="1.5"/>
<text font-size="10.1" text-anchor="end" transform="translate(213.8 681.336) scale(1 1.04)" xml:space="preserve">0</text>
<text font-size="13.7" text-anchor="middle" transform="translate(199.4 613.6) rotate(-90) scale(1 1.04)" xml:space="preserve">% cases</text>
<text font-size="14.1" text-anchor="end" transform="translate(227.5 694.6) scale(1 1.04)" xml:space="preserve"><tspan font-style="italic">PIPP</tspan></text>
<text font-size="14.1" text-anchor="end" transform="translate(227.5 709.1) scale(1 1.04)" xml:space="preserve"><tspan font-style="italic">PTEN</tspan></text>
<text font-size="12.6" text-anchor="middle" transform="translate(241.25 693.50) scale(1 1.04)" stroke="#262223" stroke-width="0.3">+</text>
<text font-size="12.6" text-anchor="middle" transform="translate(241.25 708.00) scale(1 1.04)" stroke="#262223" stroke-width="0.3">+</text>
<text font-size="12.6" text-anchor="middle" transform="translate(265.75 693.50) scale(1 1.04)" stroke="#262223" stroke-width="0.3">+</text>
<text font-size="14" text-anchor="middle" transform="translate(265.75 707.13) scale(1.2 1.04)" stroke="#262223" stroke-width="0.3">-</text>
<text font-size="14" text-anchor="middle" transform="translate(289.95 692.63) scale(1.2 1.04)" stroke="#262223" stroke-width="0.3">-</text>
<text font-size="12.6" text-anchor="middle" transform="translate(289.95 708.00) scale(1 1.04)" stroke="#262223" stroke-width="0.3">+</text>
<text font-size="14" text-anchor="middle" transform="translate(314.15 692.63) scale(1.2 1.04)" stroke="#262223" stroke-width="0.3">-</text>
<text font-size="14" text-anchor="middle" transform="translate(314.15 707.13) scale(1.2 1.04)" stroke="#262223" stroke-width="0.3">-</text>
<text font-size="15" font-weight="bold" transform="translate(503 506.2) scale(1.12 1.04)" fill="#2a2627" stroke="#2a2627" stroke-width="0.15" stroke-linejoin="round" xml:space="preserve">J</text>
<rect x="524.5" y="503.6" width="11.5" height="12" fill="#1b08fa" stroke="#1a1718" stroke-width="1.2"/>
<text font-size="13.5" transform="translate(541.9 514.1) scale(1 1.04)" xml:space="preserve">Grade 1 or 2 (n = 882)</text>
<rect x="524.5" y="519.2" width="11.5" height="12" fill="#f46a1c" stroke="#1a1718" stroke-width="1.2"/>
<text font-size="13.5" transform="translate(541.9 529.7) scale(1 1.04)" xml:space="preserve">Grade 3 ( n = 914)</text>
<rect x="547.625" y="607.114" width="14.65" height="70.5856" fill="#1b08fa" stroke="#1a1718" stroke-width="1.45"/>
<rect x="547.625" y="546.5" width="14.65" height="60.6144" fill="#f47d20" stroke="#1a1718" stroke-width="1.45"/>
<rect x="572.125" y="625.22" width="14.65" height="52.48" fill="#1b08fa" stroke="#1a1718" stroke-width="1.45"/>
<rect x="572.125" y="546.5" width="14.65" height="78.72" fill="#f47d20" stroke="#1a1718" stroke-width="1.45"/>
<rect x="596.425" y="660.513" width="14.65" height="17.1872" fill="#1b08fa" stroke="#1a1718" stroke-width="1.45"/>
<rect x="596.425" y="546.5" width="14.65" height="114.013" fill="#f47d20" stroke="#1a1718" stroke-width="1.45"/>
<rect x="620.625" y="671.271" width="14.65" height="6.4288" fill="#1b08fa" stroke="#1a1718" stroke-width="1.45"/>
<rect x="620.625" y="546.5" width="14.65" height="124.771" fill="#f47d20" stroke="#1a1718" stroke-width="1.45"/>
<line x1="538.4" y1="545.75" x2="538.4" y2="678.45" stroke="#1a1718" stroke-width="1.5"/>
<line x1="537.65" y1="677.7" x2="645" y2="677.7" stroke="#1a1718" stroke-width="1.5"/>
<line x1="532.8" y1="546.5" x2="538.4" y2="546.5" stroke="#1a1718" stroke-width="1.5"/>
<text font-size="10.1" text-anchor="end" transform="translate(531 550.136) scale(1 1.04)" xml:space="preserve">100</text>
<line x1="532.8" y1="579.3" x2="538.4" y2="579.3" stroke="#1a1718" stroke-width="1.5"/>
<text font-size="10.1" text-anchor="end" transform="translate(531 582.936) scale(1 1.04)" xml:space="preserve">75</text>
<line x1="532.8" y1="612.1" x2="538.4" y2="612.1" stroke="#1a1718" stroke-width="1.5"/>
<text font-size="10.1" text-anchor="end" transform="translate(531 615.736) scale(1 1.04)" xml:space="preserve">50</text>
<line x1="532.8" y1="644.9" x2="538.4" y2="644.9" stroke="#1a1718" stroke-width="1.5"/>
<text font-size="10.1" text-anchor="end" transform="translate(531 648.536) scale(1 1.04)" xml:space="preserve">25</text>
<line x1="532.8" y1="677.7" x2="538.4" y2="677.7" stroke="#1a1718" stroke-width="1.5"/>
<text font-size="10.1" text-anchor="end" transform="translate(531 681.336) scale(1 1.04)" xml:space="preserve">0</text>
<text font-size="13.7" text-anchor="middle" transform="translate(514.4 613.6) rotate(-90) scale(1 1.04)" xml:space="preserve">% cases</text>
<text font-size="14.1" text-anchor="end" transform="translate(542.5 694.6) scale(1 1.04)" xml:space="preserve"><tspan font-style="italic">PIPP</tspan></text>
<text font-size="14.1" text-anchor="end" transform="translate(542.5 709.1) scale(1 1.04)" xml:space="preserve"><tspan font-style="italic">PTEN</tspan></text>
<text font-size="12.6" text-anchor="middle" transform="translate(556.55 693.10) scale(1 1.04)" stroke="#262223" stroke-width="0.3">+</text>
<text font-size="12.6" text-anchor="middle" transform="translate(556.55 707.90) scale(1 1.04)" stroke="#262223" stroke-width="0.3">+</text>
<text font-size="12.6" text-anchor="middle" transform="translate(581.05 693.10) scale(1 1.04)" stroke="#262223" stroke-width="0.3">+</text>
<text font-size="14" text-anchor="middle" transform="translate(581.05 707.03) scale(1.2 1.04)" stroke="#262223" stroke-width="0.3">-</text>
<text font-size="14" text-anchor="middle" transform="translate(605.35 692.23) scale(1.2 1.04)" stroke="#262223" stroke-width="0.3">-</text>
<text font-size="12.6" text-anchor="middle" transform="translate(605.35 707.90) scale(1 1.04)" stroke="#262223" stroke-width="0.3">+</text>
<text font-size="14" text-anchor="middle" transform="translate(629.55 692.23) scale(1.2 1.04)" stroke="#262223" stroke-width="0.3">-</text>
<text font-size="14" text-anchor="middle" transform="translate(629.55 707.03) scale(1.2 1.04)" stroke="#262223" stroke-width="0.3">-</text>
<text font-size="15.4" font-weight="bold" transform="translate(8.4 748.6) scale(1.08 1.04)" fill="#2a2627" stroke="#2a2627" stroke-width="0.15" stroke-linejoin="round" xml:space="preserve">K</text>
<line x1="52.6" y1="765.2" x2="52.6" y2="920.2" stroke="#1a1718" stroke-width="1.6"/>
<line x1="51.8" y1="919.4" x2="267.7" y2="919.4" stroke="#1a1718" stroke-width="1.6"/>
<line x1="46" y1="766" x2="52.6" y2="766" stroke="#1a1718" stroke-width="1.6"/>
<text font-size="11.6" text-anchor="end" transform="translate(44.6 770.1) scale(1 1.04)" xml:space="preserve">100</text>
<line x1="46" y1="804.35" x2="52.6" y2="804.35" stroke="#1a1718" stroke-width="1.6"/>
<text font-size="11.6" text-anchor="end" transform="translate(44.6 808.45) scale(1 1.04)" xml:space="preserve">75</text>
<line x1="46" y1="842.7" x2="52.6" y2="842.7" stroke="#1a1718" stroke-width="1.6"/>
<text font-size="11.6" text-anchor="end" transform="translate(44.6 846.8) scale(1 1.04)" xml:space="preserve">50</text>
<line x1="46" y1="881.05" x2="52.6" y2="881.05" stroke="#1a1718" stroke-width="1.6"/>
<text font-size="11.6" text-anchor="end" transform="translate(44.6 885.15) scale(1 1.04)" xml:space="preserve">25</text>
<line x1="46" y1="919.4" x2="52.6" y2="919.4" stroke="#1a1718" stroke-width="1.6"/>
<text font-size="11.6" text-anchor="end" transform="translate(44.6 923.5) scale(1 1.04)" xml:space="preserve">0</text>
<line x1="52.6" y1="919.4" x2="52.6" y2="925" stroke="#1a1718" stroke-width="1.6"/>
<text font-size="11.6" text-anchor="middle" transform="translate(52.6 938.6) scale(1 1.04)" xml:space="preserve">0</text>
<line x1="84.6" y1="919.4" x2="84.6" y2="925" stroke="#1a1718" stroke-width="1.6"/>
<text font-size="11.6" text-anchor="middle" transform="translate(84.6 938.6) scale(1 1.04)" xml:space="preserve">60</text>
<line x1="116.6" y1="919.4" x2="116.6" y2="925" stroke="#1a1718" stroke-width="1.6"/>
<text font-size="11.6" text-anchor="middle" transform="translate(116.6 938.6) scale(1 1.04)" xml:space="preserve">120</text>
<line x1="148.7" y1="919.4" x2="148.7" y2="925" stroke="#1a1718" stroke-width="1.6"/>
<text font-size="11.6" text-anchor="middle" transform="translate(148.7 938.6) scale(1 1.04)" xml:space="preserve">180</text>
<line x1="180.8" y1="919.4" x2="180.8" y2="925" stroke="#1a1718" stroke-width="1.6"/>
<text font-size="11.6" text-anchor="middle" transform="translate(180.8 938.6) scale(1 1.04)" xml:space="preserve">240</text>
<line x1="212.9" y1="919.4" x2="212.9" y2="925" stroke="#1a1718" stroke-width="1.6"/>
<text font-size="11.6" text-anchor="middle" transform="translate(212.9 938.6) scale(1 1.04)" xml:space="preserve">300</text>
<line x1="244.9" y1="919.4" x2="244.9" y2="925" stroke="#1a1718" stroke-width="1.6"/>
<text font-size="11.6" text-anchor="middle" transform="translate(244.9 938.6) scale(1 1.04)" xml:space="preserve">360</text>
<text font-size="13" text-anchor="middle" transform="translate(160 957.1) scale(1 1.04)" xml:space="preserve">Months</text>
<text font-size="12.7" text-anchor="middle" transform="translate(17 842.7) rotate(-90) scale(1 1.04)" xml:space="preserve">% Overall survival</text>
<path d="M116.9 766.6V919" fill="none" stroke="#1a1718" stroke-width="1.7" stroke-dasharray="1.7 2.92"/>
<text font-size="12.8" transform="translate(61.4 856.2) scale(1 1.04)" xml:space="preserve">p&lt;0.001</text>
<line x1="134.2" y1="782.7" x2="150.3" y2="782.7" stroke="#1b08fa" stroke-width="1.5"/>
<line x1="142.25" y1="782.7" x2="142.25" y2="779.5" stroke="#1b08fa" stroke-width="1.3"/>
<line x1="134.2" y1="796.6" x2="150.3" y2="796.6" stroke="#f47d20" stroke-width="1.5"/>
<line x1="142.25" y1="796.6" x2="142.25" y2="793.4" stroke="#f47d20" stroke-width="1.3"/>
<text font-size="12.7" transform="translate(159.8 787) scale(1 1.04)" letter-spacing="0.24" xml:space="preserve"><tspan font-style="italic">PIPP/PTEN</tspan> high (n = 770)</text>
<text font-size="12.7" transform="translate(159.8 801.2) scale(1 1.04)" letter-spacing="0.24" xml:space="preserve"><tspan font-style="italic">PIPP/PTEN</tspan> low (n = 369)</text>
<path d="M52.6 765H54.2V765.3H55.8V765.5H57.4V765.8H59.0V766.1H60.6V766.7H62.2V767.6H63.8V768.5H65.4V769.9H67.0V771.4H68.6V772.9H70.2V773.9H71.8V774.9H73.4V775.9H75.0V778.1H76.6V780.3H78.2V782.2H79.8V784.0H81.4V785.8H83.0V787.3H84.6V788.5H86.2V789.7H87.8V790.8H89.4V791.8H91.0V792.8H92.6V793.8H94.2V795.2H95.8V796.5H97.4V798.0H99.0V800.4H100.6V802.8H102.2V804.8H103.8V806.7H105.4V808.5H107.0V810.2H108.6V812.0H110.2V813.8H111.8V815.7H113.4V817.6H115.0V820.0H116.6V822.6H118.2V824.8H119.8V826.6H121.4V828.5H123.0V829.7H124.6V830.8H126.2V832.0H127.8V833.6H129.4V835.3H131.0V837.0H132.6V838.4H134.2V839.3H135.8V840.2H137.4V841.1H139.0V841.9H140.6V842.7H142.2V843.5H143.8V844.4H145.4V845.8H147.0V847.2H148.6V848.6H150.2V849.9H151.8V851.1H153.4V852.3H155.0V853.6H156.6V855.0H158.2V856.4H159.8V857.7H161.4V858.5H163.0V859.3H164.6V860.1H166.2V861.1H167.8V862.1H169.4V863.1H171.0V864.9H172.6V867.0H174.2V869.0H175.8V870.3H177.4V871.6H179.0V872.9H180.6V873.8H182.2V874.8H183.8V875.7H185.4V876.4H187.0V877.0H188.6V877.7H190.2V878.3H191.8V878.9H193.4V879.5H195.0V880.2H196.6V881.9H198.2V883.0H199.8V883.5H201.4V884.0H203.0V886.4H204.6V888.7H206.2V889.0H207.8V889.2H209.4V891.0H211.0V893.6H212.2V896.8" fill="none" stroke="#1b08fa" stroke-width="3" stroke-linejoin="miter"/>
<path d="M212.2 896.8H232.2V904.2H240.7V919.4" fill="none" stroke="#1b08fa" stroke-width="1.7" stroke-linejoin="miter"/>
<path d="M216.8 896.8v-3M223 896.8v-3M229.7 896.8v-3" fill="none" stroke="#1b08fa" stroke-width="1.2"/>
<path d="M52.6 765H54.2V765.2H55.8V765.4H57.4V765.8H59.0V767.4H60.6V771.1H62.2V776.4H63.8V781.6H65.4V785.6H67.0V789.3H68.6V792.4H70.2V795.4H71.8V798.1H73.4V800.8H75.0V803.4H76.6V805.9H78.2V808.0H79.8V809.8H81.4V810.5H83.0V811.2H84.6V811.9H86.2V813.5H87.8V815.7H89.4V817.3H91.0V818.3H92.6V819.2H94.2V820.2H95.8V821.6H97.4V823.7H99.0V825.9H100.6V826.9H102.2V827.9H103.8V828.7H105.4V829.4H107.0V830.1H108.6V830.8H110.2V831.6H111.8V832.6H113.4V833.7H115.0V834.3H116.6V834.8H118.2V835.4H119.8V836.0H121.4V836.8H123.0V837.5H124.6V838.2H126.2V838.9H127.8V839.5H129.4V840.1H131.0V840.7H132.6V841.5H134.2V842.5H135.8V843.5H137.4V844.4H139.0V844.9H140.6V845.4H142.2V845.8H143.8V846.4H145.4V847.7H147.0V849.1H148.6V849.6H150.2V849.6H151.8V849.6H153.4V849.6H155.0V849.9H156.6V850.5H158.2V851.1H159.8V851.6H161.4V851.9H163.0V852.2H164.6V852.5H166.2V853.6H167.8V855.3H169.4V856.7H171.0V858.0H172.6V859.2H174.2V859.2H175.8V859.3H177.4V859.3H179.0V859.4H180.6V859.4H181.1V859.4" fill="none" stroke="#f47d20" stroke-width="3" stroke-linejoin="miter"/>
<path d="M181.1 859.4H182.4V860.7H183.7V862.0H185.0V863.2H186.3V864.3H187.6V865.4H188.9V867.0H190.2V869.1H191.5V871.1H192.8V874.1H193.6V875.9" fill="none" stroke="#f47d20" stroke-width="2" stroke-linejoin="miter"/>
<path d="M193.6 875.9H205.2L206.3 881.4L209.2 882.7V891.9H232.6V905.3H242.8V919.4" fill="none" stroke="#f47d20" stroke-width="1.7" stroke-linejoin="miter"/>
<path d="M199.2 875.9v-3M201.4 875.9v-3M203.7 875.9v-3" fill="none" stroke="#f47d20" stroke-width="1.2"/>
<path d="M217.5 891.9v-3" fill="none" stroke="#f47d20" stroke-width="1.2"/>
<text font-size="15.4" font-weight="bold" transform="translate(329.4 748.6) scale(1.08 1.04)" fill="#2a2627" stroke="#2a2627" stroke-width="0.15" stroke-linejoin="round" xml:space="preserve">L</text>
<line x1="378.4" y1="765.2" x2="378.4" y2="920.2" stroke="#1a1718" stroke-width="1.6"/>
<line x1="377.6" y1="919.4" x2="593.9" y2="919.4" stroke="#1a1718" stroke-width="1.6"/>
<line x1="371.8" y1="766" x2="378.4" y2="766" stroke="#1a1718" stroke-width="1.6"/>
<text font-size="11.6" text-anchor="end" transform="translate(370.4 770.1) scale(1 1.04)" xml:space="preserve">100</text>
<line x1="371.8" y1="804.35" x2="378.4" y2="804.35" stroke="#1a1718" stroke-width="1.6"/>
<text font-size="11.6" text-anchor="end" transform="translate(370.4 808.45) scale(1 1.04)" xml:space="preserve">75</text>
<line x1="371.8" y1="842.7" x2="378.4" y2="842.7" stroke="#1a1718" stroke-width="1.6"/>
<text font-size="11.6" text-anchor="end" transform="translate(370.4 846.8) scale(1 1.04)" xml:space="preserve">50</text>
<line x1="371.8" y1="881.05" x2="378.4" y2="881.05" stroke="#1a1718" stroke-width="1.6"/>
<text font-size="11.6" text-anchor="end" transform="translate(370.4 885.15) scale(1 1.04)" xml:space="preserve">25</text>
<line x1="371.8" y1="919.4" x2="378.4" y2="919.4" stroke="#1a1718" stroke-width="1.6"/>
<text font-size="11.6" text-anchor="end" transform="translate(370.4 923.5) scale(1 1.04)" xml:space="preserve">0</text>
<line x1="378.4" y1="919.4" x2="378.4" y2="925" stroke="#1a1718" stroke-width="1.6"/>
<text font-size="11.6" text-anchor="middle" transform="translate(378.4 938.6) scale(1 1.04)" xml:space="preserve">0</text>
<line x1="421.3" y1="919.4" x2="421.3" y2="925" stroke="#1a1718" stroke-width="1.6"/>
<text font-size="11.6" text-anchor="middle" transform="translate(421.3 938.6) scale(1 1.04)" xml:space="preserve">60</text>
<line x1="464.2" y1="919.4" x2="464.2" y2="925" stroke="#1a1718" stroke-width="1.6"/>
<text font-size="11.6" text-anchor="middle" transform="translate(464.2 938.6) scale(1 1.04)" xml:space="preserve">120</text>
<line x1="507.2" y1="919.4" x2="507.2" y2="925" stroke="#1a1718" stroke-width="1.6"/>
<text font-size="11.6" text-anchor="middle" transform="translate(507.2 938.6) scale(1 1.04)" xml:space="preserve">180</text>
<line x1="550.1" y1="919.4" x2="550.1" y2="925" stroke="#1a1718" stroke-width="1.6"/>
<text font-size="11.6" text-anchor="middle" transform="translate(550.1 938.6) scale(1 1.04)" xml:space="preserve">240</text>
<line x1="593.1" y1="919.4" x2="593.1" y2="925" stroke="#1a1718" stroke-width="1.6"/>
<text font-size="11.6" text-anchor="middle" transform="translate(593.1 938.6) scale(1 1.04)" xml:space="preserve">300</text>
<text font-size="13" text-anchor="middle" transform="translate(485.5 957.1) scale(1 1.04)" xml:space="preserve">Months</text>
<text font-size="13.1" text-anchor="middle" transform="translate(342.3 842.7) rotate(-90) scale(1 1.04)" xml:space="preserve">% Disease-free survival</text>
<line x1="400.1" y1="856.6" x2="416.8" y2="856.6" stroke="#1b08fa" stroke-width="1.5"/>
<line x1="408.45" y1="856.6" x2="408.45" y2="853.4" stroke="#1b08fa" stroke-width="1.3"/>
<line x1="400.1" y1="870.5" x2="416.8" y2="870.5" stroke="#f47d20" stroke-width="1.5"/>
<line x1="408.45" y1="870.5" x2="408.45" y2="867.3" stroke="#f47d20" stroke-width="1.3"/>
<text font-size="12.7" transform="translate(426.2 860.5) scale(1 1.04)" letter-spacing="0.24" xml:space="preserve"><tspan font-style="italic">PIPP/PTEN</tspan> high (n = 341)</text>
<text font-size="12.7" transform="translate(426.2 874.7) scale(1 1.04)" letter-spacing="0.24" xml:space="preserve"><tspan font-style="italic">PIPP/PTEN</tspan> low (n = 166)</text>
<text font-size="12.8" transform="translate(402.6 890.9) scale(1 1.04)" letter-spacing="0.2" xml:space="preserve">p = 0.035</text>
<path d="M378.5 765H380.5V765.4H382.5V765.8H384.5V766.3H386.5V766.7H388.5V767.4H390.5V768.2H392.5V769.0H394.5V769.7H396.5V770.0H398.5V770.4H400.5V770.8H402.5V771.6H404.5V772.8H406.5V773.7H408.5V774.4H410.5V775.6H412.5V777.3H414.5V778.5H416.5V779.4H418.5V780.3H420.5V781.3H422.5V781.3H424.5V781.3H426.5V782.3H428.5V783.9H430.5V785.5H432.5V785.6H434.5V785.6H436.5V785.7H438.5V785.7H440.5V785.8H442.5V785.9H444.5V788.2H446.5V789.5H448.5V791.2H449.6V800.6" fill="none" stroke="#1b08fa" stroke-width="3" stroke-linejoin="miter"/>
<path d="M449.6 800.6V801.6H469.4V811.6H566.5V808.4" fill="none" stroke="#1b08fa" stroke-width="1.6" stroke-linejoin="miter"/>
<path d="M452.8 801.6v-3M459.1 801.6v-3M465.6 801.6v-3" fill="none" stroke="#1b08fa" stroke-width="1.2"/>
<path d="M473.5 811.6v-3M477.4 811.6v-3M480.4 811.6v-3M497.2 811.6v-3M499.5 811.6v-3M526.1 811.6v-3" fill="none" stroke="#1b08fa" stroke-width="1.2"/>
<path d="M378.5 765H380.5V766.3H382.5V767.7H384.5V768.8H386.5V769.8H388.5V771.0H390.5V774.0H392.5V776.5H394.5V779.2H396.5V783.6H398.5V786.5H400.5V786.7H402.5V787.0H404.5V787.2H406.5V789.2H408.5V789.2H410.5V789.2H412.5V790.0H414.5V792.6H416.5V797.1H416.6V797.9" fill="none" stroke="#f47d20" stroke-width="3" stroke-linejoin="miter"/>
<path d="M416.6 798.2H450V806.9H545.4V803.8" fill="none" stroke="#f47d20" stroke-width="1.6" stroke-linejoin="miter"/>
<path d="M419.5 798.2v-2.6M422 798.2v-2.6M424.5 798.2v-2.6M427 798.2v-2.6M429.5 798.2v-2.6M432 798.2v-2.6M434.5 798.2v-2.6M437.5 798.2v-2.6M441 798.2v-2.6M443.4 798.2v-2.6M446 798.2v-2.6" fill="none" stroke="#f47d20" stroke-width="1.2"/>
<path d="M452.2 806.9v-2.6M453.8 806.9v-2.6M455.8 806.9v-2.6M460.7 806.9v-2.6M467.6 806.9v-2.6M471.9 806.9v-2.6M478.8 806.9v-2.6" fill="none" stroke="#f47d20" stroke-width="1.2"/>
</svg>
</body>
</html>
